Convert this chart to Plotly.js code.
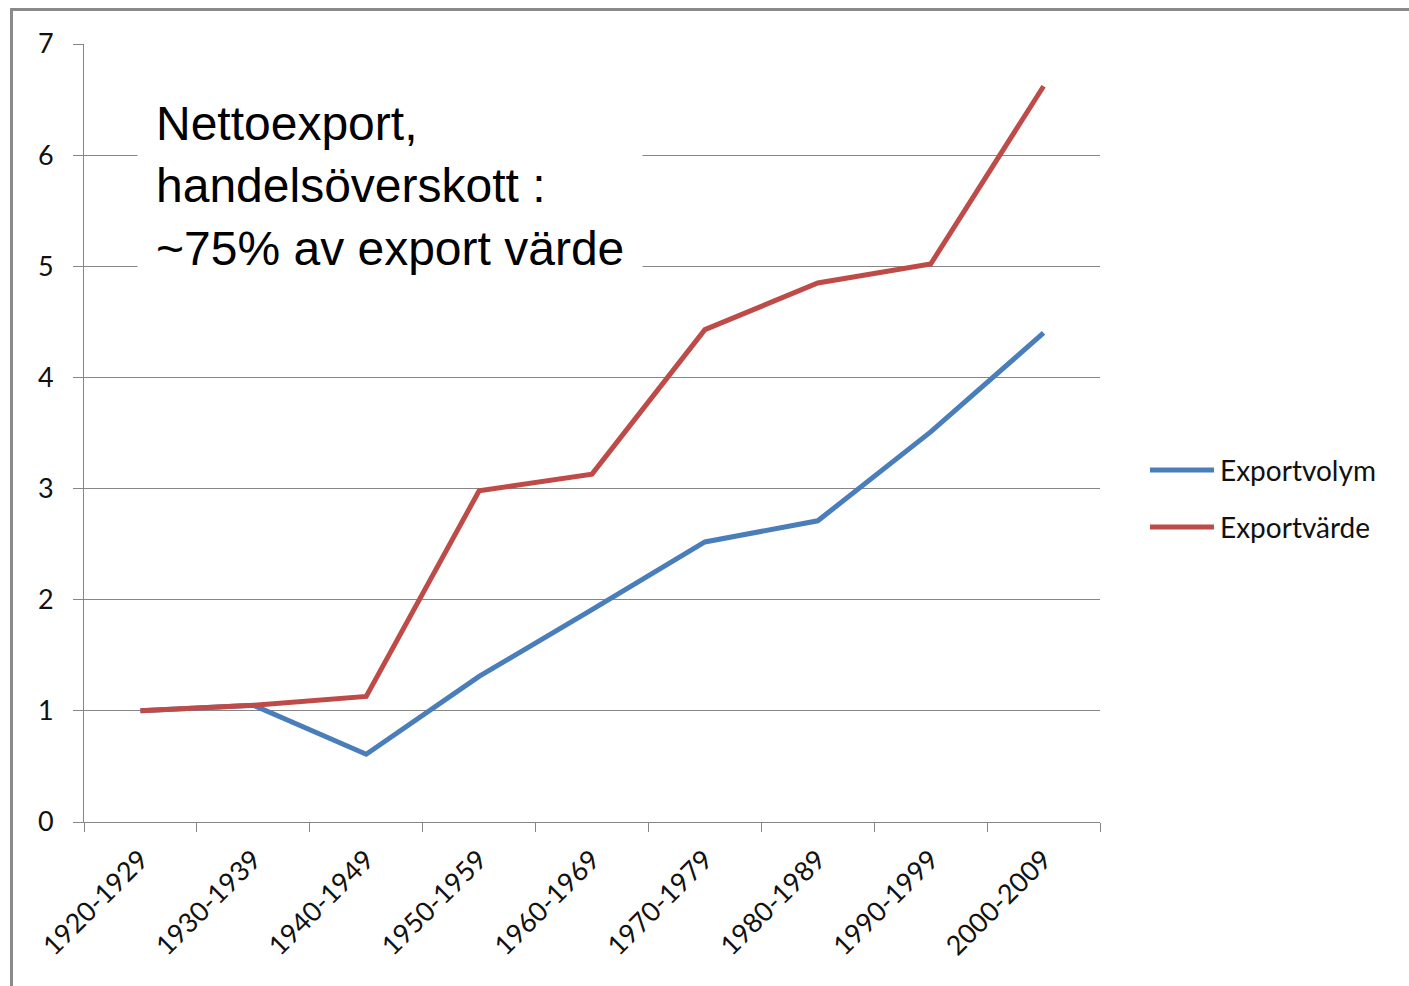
<!DOCTYPE html>
<html>
<head>
<meta charset="utf-8">
<script src="https://cdn.plot.ly/plotly-3.0.1.min.js"></script>
<style>
  html, body { margin: 0; padding: 0; background: #ffffff; }
  #wrap { position: relative; width: 1409px; height: 986px; }
  #chart { position: absolute; left: 0; top: 0; width: 1409px; height: 986px; }
  #frame { position: absolute; left: 10px; top: 8px; right: -10px; bottom: -10px;
           border-top: 3px solid #8a8a8a; border-left: 3px solid #8a8a8a; pointer-events: none; }
</style>
</head>
<body>
<div id="wrap">
  <div id="chart"></div>
  <div id="frame"></div>
</div>
<script>
// ---- data ----
const categories = ["1920-1929","1930-1939","1940-1949","1950-1959","1960-1969","1970-1979","1980-1989","1990-1999","2000-2009"];
const exportvolym = [1.00, 1.05, 0.61, 1.31, 1.91, 2.52, 2.71, 3.51, 4.40];
const exportvarde = [1.00, 1.05, 1.13, 2.98, 3.13, 4.43, 4.85, 5.02, 6.62];
const seriesNames = ["Exportvolym", "Exportvärde"];
const seriesColors = ["#4a7ebb", "#be4b48"];
const yTicks = [0, 1, 2, 3, 4, 5, 6, 7];
const noteText = "Nettoexport,<br>handelsöverskott :<br>~75% av export värde";

const tickFont = { family: "Lato, 'Noto Sans', sans-serif", size: 27, color: "#111111" };
const legendFont = { family: "Lato, 'Noto Sans', sans-serif", size: 28, color: "#111111" };

const traces = [
  { x: categories, y: exportvolym, name: seriesNames[0], type: "scatter", mode: "lines",
    line: { color: seriesColors[0], width: 5 }, showlegend: false },
  { x: categories, y: exportvarde, name: seriesNames[1], type: "scatter", mode: "lines",
    line: { color: seriesColors[1], width: 5 }, showlegend: false }
];

// manual legend (long line samples like the reference)
const legY = [0.4524, 0.3792];
const shapes = seriesNames.map((n, i) => ({
  type: "line", xref: "paper", yref: "paper",
  x0: 1.0492, x1: 1.1122, y0: legY[i], y1: legY[i],
  line: { color: seriesColors[i], width: 5 }
}));
const annotations = seriesNames.map((n, i) => ({
  xref: "paper", yref: "paper", x: 1.1161, y: legY[i],
  xanchor: "left", yanchor: "middle", showarrow: false,
  text: n, font: legendFont
}));
annotations.push({
  xref: "paper", yref: "paper", x: 0.0522, y: 0.818,
  xanchor: "left", yanchor: "middle", align: "left", showarrow: false,
  text: noteText, bgcolor: "#ffffff", borderpad: 18,
  font: { family: "'Liberation Sans', Arial, sans-serif", size: 48, color: "#000000" }
});

const layout = {
  width: 1409, height: 986,
  margin: { l: 84, r: 309, t: 44, b: 164 },
  paper_bgcolor: "#ffffff", plot_bgcolor: "#ffffff",
  showlegend: false,
  xaxis: {
    type: "category", categoryarray: categories, categoryorder: "array",
    range: [-0.5, categories.length - 0.5],
    tickson: "boundaries", ticks: "outside", ticklen: 9, tickcolor: "#868686", tickwidth: 1,
    showgrid: false, showline: true, linecolor: "#868686", linewidth: 1,
    tickangle: -45, tickfont: tickFont, ticklabelstandoff: 10, zeroline: false
  },
  yaxis: {
    range: [0, 7], tickvals: yTicks, ticktext: yTicks.map(String),
    ticks: "outside", ticklen: 10, tickcolor: "#868686", tickwidth: 1,
    showgrid: true, gridcolor: "#868686", gridwidth: 1,
    showline: true, linecolor: "#868686", linewidth: 1, zeroline: false,
    tickfont: tickFont, ticklabelstandoff: 14
  },
  shapes: shapes,
  annotations: annotations
};

Plotly.newPlot("chart", traces, layout, { displayModeBar: false, staticPlot: true });
</script>
</body>
</html>
